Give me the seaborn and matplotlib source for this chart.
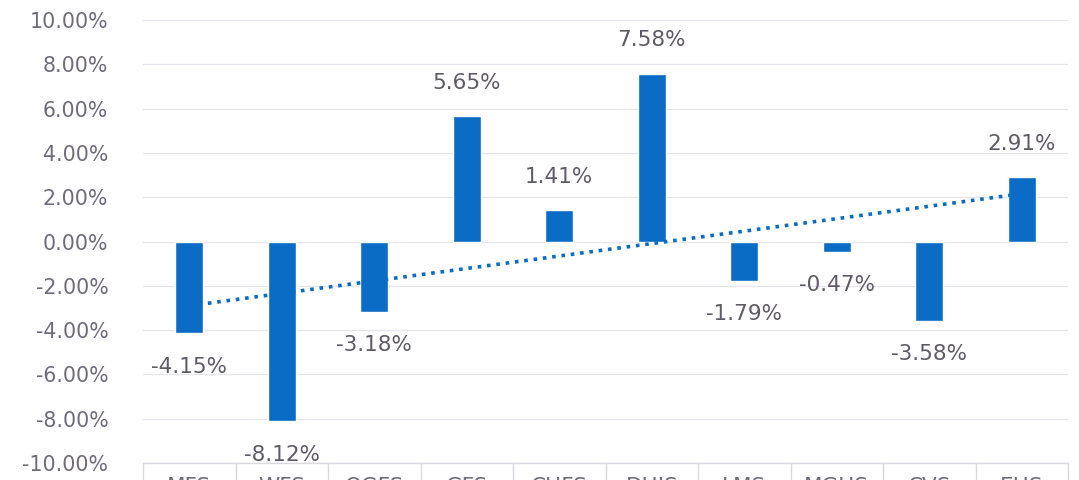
import numpy as np
import pandas as pd
import matplotlib
matplotlib.use("Agg")
import matplotlib.pyplot as plt
import matplotlib.transforms as mtransforms
import seaborn as sns

categories = ["MFS", "WFS", "OGFS", "GFS", "CHFS", "DHIS", "LMS", "MGHS", "CVS", "EHS"]
values = [-4.15, -8.12, -3.18, 5.65, 1.41, 7.58, -1.79, -0.47, -3.58, 2.91]
yticks = [-10, -8, -6, -4, -2, 0, 2, 4, 6, 8, 10]

sns.set_theme(style="white")
plt.rcParams['font.family'] = ['DejaVu Sans']

df = pd.DataFrame({"cat": categories, "val": values})
fig = plt.figure(figsize=(10.79, 4.8), dpi=100)
ax = fig.add_axes([143/1079, 1 - 463/480, (1068 - 143)/1079, (463 - 20)/480])

blue = "#0a6cc4"
txt = "#706b7a"
sns.barplot(data=df, x="cat", y="val", color=blue, width=0.3, saturation=1, ax=ax, zorder=3)

# linear trendline
x = np.arange(len(values))
coef = np.polyfit(x, values, 1)
ax.plot(x, np.polyval(coef, x), linestyle=(0, (1, 1.6)), linewidth=2.6, color=blue, zorder=4)

ax.set_ylim(-10, 10)
ax.set_xlim(-0.5, len(categories) - 0.5)
ax.set_yticks(yticks)
ax.set_yticklabels([f"{t:.2f}%" for t in yticks], fontsize=14.8, color=txt)
for t in yticks:
    ax.axhline(t, color="#e6e4ec", linewidth=0.9, zorder=0)
for s in ax.spines.values():
    s.set_visible(False)
ax.tick_params(axis="y", length=0, pad=25)
ax.set_xlabel("")
ax.set_ylabel("")

# category labels in boxes, partially clipped by the figure edge
ax.set_xticks(range(len(categories)))
ax.set_xticklabels(categories, fontsize=15.5, color=txt)
ax.tick_params(axis="x", length=0, pad=10)
trans = mtransforms.blended_transform_factory(ax.transData, ax.transAxes)
for b in np.arange(-0.5, len(categories) + 0.5, 1.0):
    ax.plot([b, b], [0, -0.1], transform=trans, color="#d9d7df", linewidth=1, clip_on=False)
ax.plot([-0.5, len(categories) - 0.5], [0, 0], transform=trans, color="#d9d7df", linewidth=1, clip_on=False)

# data labels
for i, v in enumerate(values):
    if v >= 0:
        ax.text(i, v + 1.05, f"{v:.2f}%", ha="center", va="bottom", fontsize=15.5, color="#5f5a66")
    else:
        ax.text(i, v - 1.05, f"{v:.2f}%", ha="center", va="top", fontsize=15.5, color="#5f5a66")

fig.savefig("out.png", dpi=100)
